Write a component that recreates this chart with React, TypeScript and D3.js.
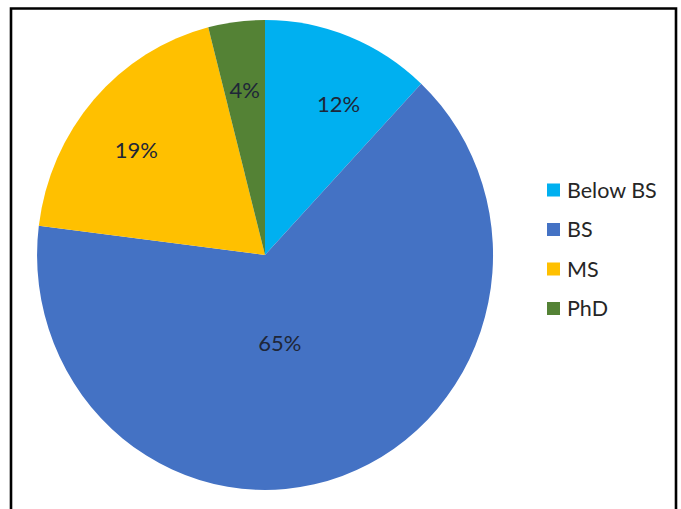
import React from "react";
import * as d3 from "d3";

const categories = ["Below BS", "BS", "MS", "PhD"];
const values = [12, 65, 19, 4];
const colors = ["#00B0F0", "#4472C4", "#FFC000", "#548235"];

const W = 681;
const H = 509;
const CX = 265;
const CY = 255;
const RX = 228;
const RY = 235;
// label placement (fraction of radius, angle nudge in degrees)
const labelR = [0.72, 0.38, 0.72, 0.71];
const labelNudge = [5, 10, -3, 0];

export default function App() {
  const pie = d3.pie<number>().sort(null).value((d) => d);
  const arcs = pie(values);
  const arc = d3.arc<d3.PieArcDatum<number>>().innerRadius(0).outerRadius(1);
  const total = d3.sum(values);

  const legendY = d3.scalePoint<string>().domain(categories).range([189.5, 308]);

  return (
    <svg
      width={W}
      height={H}
      style={{ position: "absolute", left: 0, top: 0, background: "#fff" }}
      fontFamily="Lato, 'Open Sans', sans-serif"
    >
      <rect x={0} y={0} width={W} height={H} fill="#fff" />
      <path
        d={`M11,${H + 5} L11,8.5 L676,8.5 L676,${H + 5}`}
        fill="none"
        stroke="#000"
        strokeWidth={2.6}
      />
      <g transform={`translate(${CX},${CY}) scale(${RX},${RY})`}>
        {arcs.map((a, i) => (
          <path key={i} d={arc(a) || ""} fill={colors[i]} />
        ))}
      </g>
      {arcs.map((a, i) => {
        const mid = (a.startAngle + a.endAngle) / 2 + (labelNudge[i] * Math.PI) / 180;
        const x = CX + RX * labelR[i] * Math.sin(mid);
        const y = CY - RY * labelR[i] * Math.cos(mid);
        return (
          <text
            key={i}
            x={x}
            y={y}
            textAnchor="middle"
            dominantBaseline="central"
            fontSize={22}
            fill="#1e2638"
          >
            {Math.round((values[i] / total) * 100)}%
          </text>
        );
      })}
      {categories.map((c, i) => {
        const y = legendY(c) as number;
        return (
          <g key={c}>
            <rect x={547} y={y - 6} width={13} height={13} fill={colors[i]} />
            <text
              x={567}
              y={y}
              dominantBaseline="central"
              fontSize={21.5}
              fill="#262626"
            >
              {c}
            </text>
          </g>
        );
      })}
    </svg>
  );
}
